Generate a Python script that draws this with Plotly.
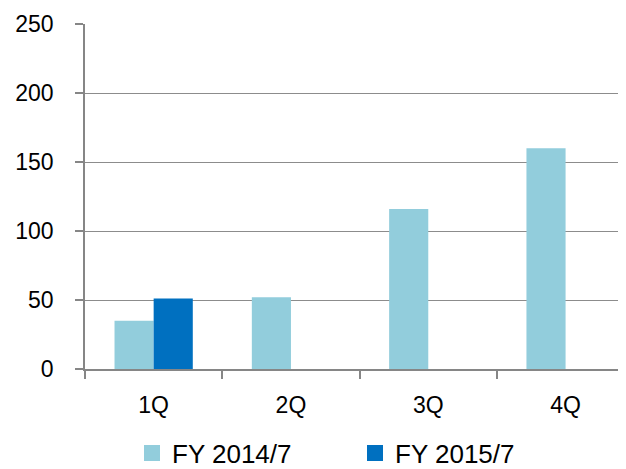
import plotly.graph_objects as go

categories = ["1Q", "2Q", "3Q", "4Q"]
fy2014 = [35, 52, 116, 160]
fy2015 = [51, None, None, None]
series_names = ["FY 2014/7", "FY 2015/7"]
colors = ["#92CDDC", "#0070C0"]

FONT = "Liberation Sans"

fig = go.Figure()
for name, vals, col in zip(series_names, [fy2014, fy2015], colors):
    fig.add_trace(go.Bar(x=categories, y=vals, name=name, marker=dict(color=col, line=dict(width=0)),
                         showlegend=False))
legend_ids = ["legend", "legend2"]
for name, col, lid in zip(series_names, colors, legend_ids):
    fig.add_trace(go.Scatter(x=[None], y=[None], mode="markers", name=name, legend=lid,
                             marker=dict(symbol="square", size=16, color=col)))

# page body has an 8px offset; figure coords: plot x 77..618, y 16..361
L, T, B, R = 77, 16, 108, 8
PW = 626 - L - R
PH = 469 - T - B
leg_y = (361 - 445) / PH
leg_common = dict(orientation="h", yanchor="middle", y=leg_y, xanchor="left",
                  font=dict(size=26, family=FONT), bgcolor="rgba(0,0,0,0)",
                  tracegroupgap=0)
fig.update_layout(
    width=626, height=469,
    margin=dict(l=L, r=R, t=T, b=B, autoexpand=False),
    paper_bgcolor="white", plot_bgcolor="white",
    barmode="group", bargap=0.43, bargroupgap=0,
    font=dict(family=FONT, size=23, color="#000000"),
    showlegend=True,
    legend=dict(x=(124 - L) / PW, **leg_common),
    legend2=dict(x=(347 - L) / PW, **leg_common),
)
fig.update_xaxes(range=[-0.5, 3.44], showline=True, linecolor="#868686", linewidth=1.5,
                 ticks="outside", ticklen=8, tickcolor="#868686", tickwidth=1.5,
                 tickson="boundaries", showgrid=False, tickfont=dict(size=23),
                 ticklabelstandoff=15)
fig.update_yaxes(range=[0, 250], dtick=50, showline=True, linecolor="#868686", linewidth=1.5,
                 ticks="outside", ticklen=8, tickcolor="#868686", tickwidth=1.5,
                 showgrid=True, gridcolor="#8C8C8C", gridwidth=1, zeroline=False,
                 tickfont=dict(size=23), ticklabelstandoff=17)

fig.write_html("out.html")
